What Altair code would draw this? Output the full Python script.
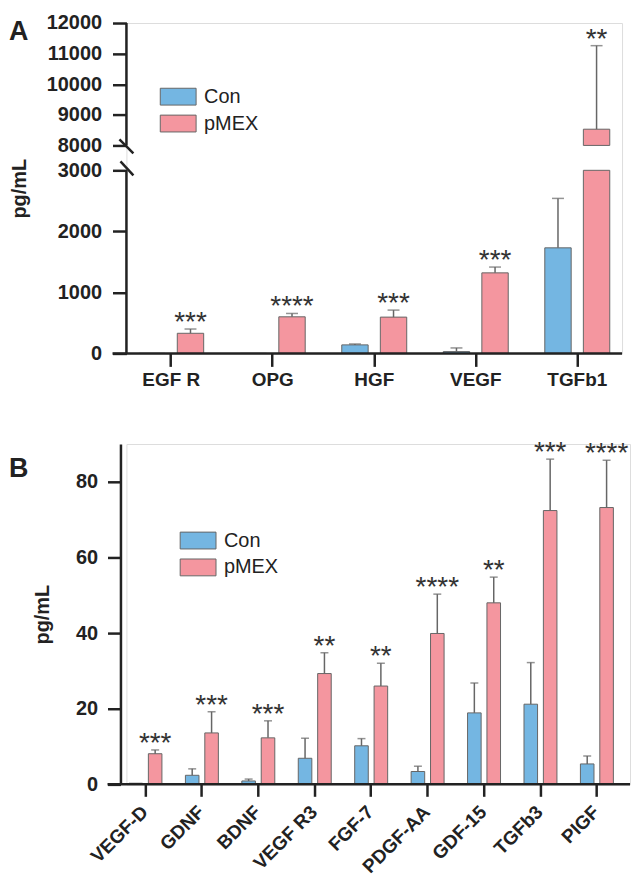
import altair as alt
import pandas as pd

FONT = "Liberation Sans"
BLUE = "#74b6e2"
PINK = "#f4969f"
EDGE = "#666666"
INK = "#222222"

# ---------------- Panel A data ----------------
A_cats = ["EGF R", "OPG", "HGF", "VEGF", "TGFb1"]
A_con = [0, 0, 140, 30, 1730]
A_con_err = [0, 0, 15, 60, 810]
A_pmex = [330, 600, 595, 1320, 8530]
A_pmex_err = [70, 55, 115, 95, 2730]
A_sig = ["***", "****", "***", "***", "**"]
A_ticks = [0, 1000, 2000, 3000, 8000, 9000, 10000, 11000, 12000]

# ---------------- Panel B data ----------------
B_cats = ["VEGF-D", "GDNF", "BDNF", "VEGF R3", "FGF-7", "PDGF-AA", "GDF-15", "TGFb3", "PIGF"]
B_con = [0.3, 2.4, 0.9, 6.9, 10.2, 3.4, 18.9, 21.2, 5.4]
B_con_err = [0, 1.7, 0.5, 5.3, 1.9, 1.4, 7.9, 11.0, 2.1]
B_pmex = [8.1, 13.6, 12.3, 29.3, 26.0, 39.9, 48.0, 72.4, 73.2]
B_pmex_err = [1.0, 5.6, 4.5, 5.5, 6.0, 10.4, 6.8, 13.6, 12.5]
B_sig = ["***", "***", "***", "**", "**", "****", "**", "***", "****"]
B_ticks = [0, 20, 40, 60, 80]

GROUPS = ["Con", "pMEX"]


def long_df(cats, con, con_err, pm, pm_err, sig):
    rows = []
    for i, c in enumerate(cats):
        rows.append(dict(cat=c, group="Con", value=con[i], err=con_err[i], sig=""))
        rows.append(dict(cat=c, group="pMEX", value=pm[i], err=pm_err[i], sig=sig[i]))
    df = pd.DataFrame(rows)
    df["top"] = df["value"] + df["err"]
    return df


dfA = long_df(A_cats, A_con, A_con_err, A_pmex, A_pmex_err, A_sig)
dfB = long_df(B_cats, B_con, B_con_err, B_pmex, B_pmex_err, B_sig)
one = pd.DataFrame({"k": [0]})

BAR_PATH = "M-2,-0.94H2V0.94H-2Z"


def legend(lx, ly):
    return alt.Legend(
        orient="none", legendX=lx, legendY=ly, title=None,
        symbolType=BAR_PATH, symbolSize=324, symbolStrokeColor=EDGE,
        symbolStrokeWidth=1, symbolOpacity=1,
        labelFont=FONT, labelFontSize=20, labelColor=INK, labelOffset=16,
        rowPadding=5, padding=0,
    )


def color_enc(lx, ly):
    return alt.Color("group:N", scale=alt.Scale(domain=GROUPS, range=[BLUE, PINK]),
                     legend=legend(lx, ly))


# ================= Panel A =================
WA, HA = 498, 332
xA = alt.X("cat:N", sort=A_cats,
           scale=alt.Scale(paddingInner=0.36, paddingOuter=0.121),
           axis=alt.Axis(title=None, labelAngle=0, labelFont=FONT, labelFontSize=19,
                         labelFontWeight="bold", labelColor=INK, tickSize=13,
                         tickWidth=2.5, tickColor=INK, domain=False, labelPadding=4))
xoA = alt.XOffset("group:N", sort=GROUPS, scale=alt.Scale(paddingInner=0.316, paddingOuter=0))
yscaleA = alt.Scale(domain=[0, 3000, 8000, 12000], range=[HA, 148, 123, 0], nice=False, zero=False)
yaxisA = alt.Axis(values=A_ticks, format="d", title="pg/mL", titleFont=FONT, titleFontSize=20,
                  titleFontWeight="bold", titleColor=INK, titlePadding=17,
                  labelFont=FONT, labelFontSize=20, labelFontWeight="bold", labelColor=INK,
                  tickSize=14, tickWidth=2.5, tickColor=INK, domain=False, grid=False,
                  labelPadding=11)

baseA = alt.Chart(dfA)
barsA_lo = baseA.transform_calculate(vlow="min(datum.value, 3000)").mark_bar(
    stroke=EDGE, strokeWidth=1).encode(
    x=xA, xOffset=xoA,
    y=alt.Y("vlow:Q", scale=yscaleA, axis=yaxisA),
    y2=alt.datum(0),
    color=color_enc(42, 64),
)
barsA_hi = baseA.transform_filter("datum.value > 8000").mark_bar(
    stroke=EDGE, strokeWidth=1).encode(
    x=xA, xOffset=xoA, y="value:Q", y2=alt.datum(8000), color="group:N")
errA = baseA.transform_filter("datum.err > 0").mark_rule(color=EDGE, strokeWidth=1.5).encode(
    x=xA, xOffset=xoA, y="value:Q", y2="top:Q")
capA = baseA.transform_filter("datum.err > 0").mark_tick(color=EDGE, thickness=1.5, size=12).encode(
    x=xA, xOffset=xoA, y="top:Q")
starA = baseA.transform_filter("datum.sig != ''").mark_text(
    font=FONT, fontSize=28, color="#333333", baseline="alphabetic", dy=2).encode(
    x=xA, xOffset=xoA, y="top:Q", text="sig:N")

axA_lo = alt.Chart(one).mark_rule(color=INK, strokeWidth=2.5).encode(
    x=alt.value(0), y=alt.datum(0), y2=alt.datum(3000))
axA_hi = alt.Chart(one).mark_rule(color=INK, strokeWidth=2.5).encode(
    x=alt.value(0), y=alt.datum(8000), y2=alt.datum(12000))
slashA1 = alt.Chart(one).mark_rule(color=INK, strokeWidth=2.5, yOffset=-6, y2Offset=8).encode(
    x=alt.value(-7), x2=alt.value(7), y=alt.datum(8000), y2=alt.datum(8000))
slashA2 = alt.Chart(one).mark_rule(color=INK, strokeWidth=2.5, yOffset=-9, y2Offset=5).encode(
    x=alt.value(-6), x2=alt.value(7), y=alt.datum(3000), y2=alt.datum(3000))
xlineA = alt.Chart(one).mark_rule(color=INK, strokeWidth=2.5).encode(
    x=alt.value(-14), x2=alt.value(WA), y=alt.datum(0))
letterA = alt.Chart(one).mark_text(text="A", font=FONT, fontSize=27, fontWeight="bold",
                                   align="left", baseline="alphabetic", color=INK).encode(
    x=alt.value(-118), y=alt.value(17))

panelA = alt.layer(barsA_lo, barsA_hi, errA, capA, starA, axA_lo, axA_hi,
                   slashA1, slashA2, xlineA, letterA).properties(width=WA, height=HA)

# ================= Panel B =================
WB, HB = 506, 342
xB = alt.X("cat:N", sort=B_cats,
           scale=alt.Scale(paddingInner=0.416, paddingOuter=0.17, align=0.133),
           axis=alt.Axis(title=None, labelAngle=-45, labelAlign="right", labelBaseline="top",
                         labelFont=FONT, labelFontSize=19, labelFontWeight="bold",
                         labelColor=INK, tickSize=12, tickWidth=2.5, tickColor=INK,
                         domain=False, labelPadding=6, labelOffset=-7))
xoB = alt.XOffset("group:N", sort=GROUPS, scale=alt.Scale(paddingInner=0.3, paddingOuter=0))
yscaleB = alt.Scale(domain=[0, 90], nice=False)
yaxisB = alt.Axis(values=B_ticks, title="pg/mL", titleFont=FONT, titleFontSize=20,
                  titleFontWeight="bold", titleColor=INK, titlePadding=23,
                  labelFont=FONT, labelFontSize=20, labelFontWeight="bold", labelColor=INK,
                  tickSize=13, tickWidth=2.5, tickColor=INK, domain=True, domainWidth=2.5,
                  domainColor=INK, grid=False, labelPadding=10, offset=6)

baseB = alt.Chart(dfB)
barsB = baseB.mark_bar(stroke=EDGE, strokeWidth=1).encode(
    x=xB, xOffset=xoB,
    y=alt.Y("value:Q", scale=yscaleB, axis=yaxisB),
    color=color_enc(62, 87),
)
errB = baseB.transform_filter("datum.err > 0").mark_rule(color=EDGE, strokeWidth=1.5).encode(
    x=xB, xOffset=xoB, y="value:Q", y2="top:Q")
capB = baseB.transform_filter("datum.err > 0").mark_tick(color=EDGE, thickness=1.5, size=8).encode(
    x=xB, xOffset=xoB, y="top:Q")
starB = baseB.transform_filter("datum.sig != ''").mark_text(
    font=FONT, fontSize=28, color="#333333", baseline="alphabetic", dy=2).encode(
    x=xB, xOffset=xoB, y="top:Q", text="sig:N")
xlineB = alt.Chart(one).mark_rule(color=INK, strokeWidth=2.5).encode(
    x=alt.value(-19), x2=alt.value(WB), y=alt.datum(0))
letterB = alt.Chart(one).mark_text(text="B", font=FONT, fontSize=27, fontWeight="bold",
                                   align="left", baseline="alphabetic", color=INK).encode(
    x=alt.value(-118), y=alt.value(33))

panelB = alt.layer(barsB, errB, capB, starB, xlineB, letterB).properties(width=WB, height=HB)

chart = alt.vconcat(panelA, panelB, spacing=48).resolve_scale(
    color="independent", xOffset="independent"
).properties(
    padding={"left": 0, "top": 2, "right": 0, "bottom": 0}
).configure_view(stroke=None).configure(background="white")

chart.save("out.html", embed_options={"renderer": "svg", "actions": False})
